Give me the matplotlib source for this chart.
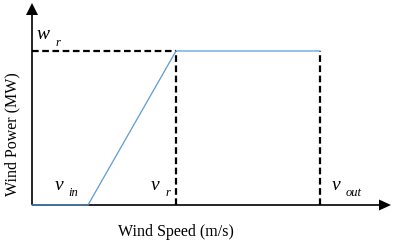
import matplotlib
matplotlib.use("Agg")
import matplotlib.pyplot as plt

# Data (wind speed in arbitrary units, power normalised to rated)
v_in = 3.5
v_r = 9.0
v_out = 18.0
p_rated = 1.0
curve_speed = [0.0, v_in, v_r, v_out]
curve_power = [0.0, 0.0, p_rated, p_rated]

W, H = 393, 244
fig = plt.figure(figsize=(W / 100, H / 100), dpi=100)
ax = fig.add_axes([0, 0, 1, 1])
ax.axis('off')

# pixel layout: origin at (32, 205), 16 px per speed unit, 154 px per power unit
ox, oy, sx, sy = 32.0, 205.0, 16.0, 154.0
ax.set_xlim(-ox / sx, (W - ox) / sx)
ax.set_ylim(-(H - oy) / sy, oy / sy)


def px(x, y):
    return (x - ox) / sx, (oy - y) / sy


serif = 'Liberation Serif'
black = '#000000'

# axes with arrows
tip_y = px(0, 3)[1]
base_y = px(0, 15)[1]
ax.plot([0, 0], [0, base_y], color=black, lw=1.2, solid_capstyle='butt')
ax.fill([-6 / sx, 6 / sx, 0], [base_y, base_y, tip_y], color=black, lw=0)
tip_x = px(391, 0)[0]
base_x = px(379, 0)[0]
ax.plot([0, base_x], [0, 0], color=black, lw=1.2, solid_capstyle='butt')
ax.fill([base_x, base_x, tip_x], [-5.5 / sy, 5.5 / sy, 0], color=black, lw=0)

# dashed guide lines
dash = (0, (3, 1.6))
ax.plot([0, v_r], [p_rated, p_rated], color=black, lw=1.6, linestyle=dash)
ax.plot([v_r, v_r], [0, p_rated], color=black, lw=1.6, linestyle=dash)
ax.plot([v_out, v_out], [0, p_rated], color=black, lw=1.6, linestyle=dash)

# power curve
ax.plot(curve_speed, curve_power, color='#5B9BD5', lw=0.9, zorder=3)

# symbol labels
big, small = 14, 9


def sym(main, sub, xm, ym, xs, ys):
    ax.text(*px(xm, ym), main, fontsize=big, family=serif, style='italic',
            ha='left', va='baseline')
    ax.text(*px(xs, ys), sub, fontsize=small, family=serif, style='italic',
            ha='left', va='baseline')


sym('w', 'r', 37, 39, 56, 46)
sym('v', 'in', 55, 190, 68, 196)
sym('v', 'r', 151, 190, 165, 196)
sym('v', 'out', 332, 190, 346, 196)

# axis titles
ax.text(*px(176, 232), 'Wind Speed (m/s)', fontsize=11.5, family=serif,
        ha='center', va='center')
ax.text(*px(12, 134), 'Wind Power (MW)', fontsize=11.5, family=serif,
        ha='center', va='center', rotation=90)

fig.savefig('out.png', dpi=100)
